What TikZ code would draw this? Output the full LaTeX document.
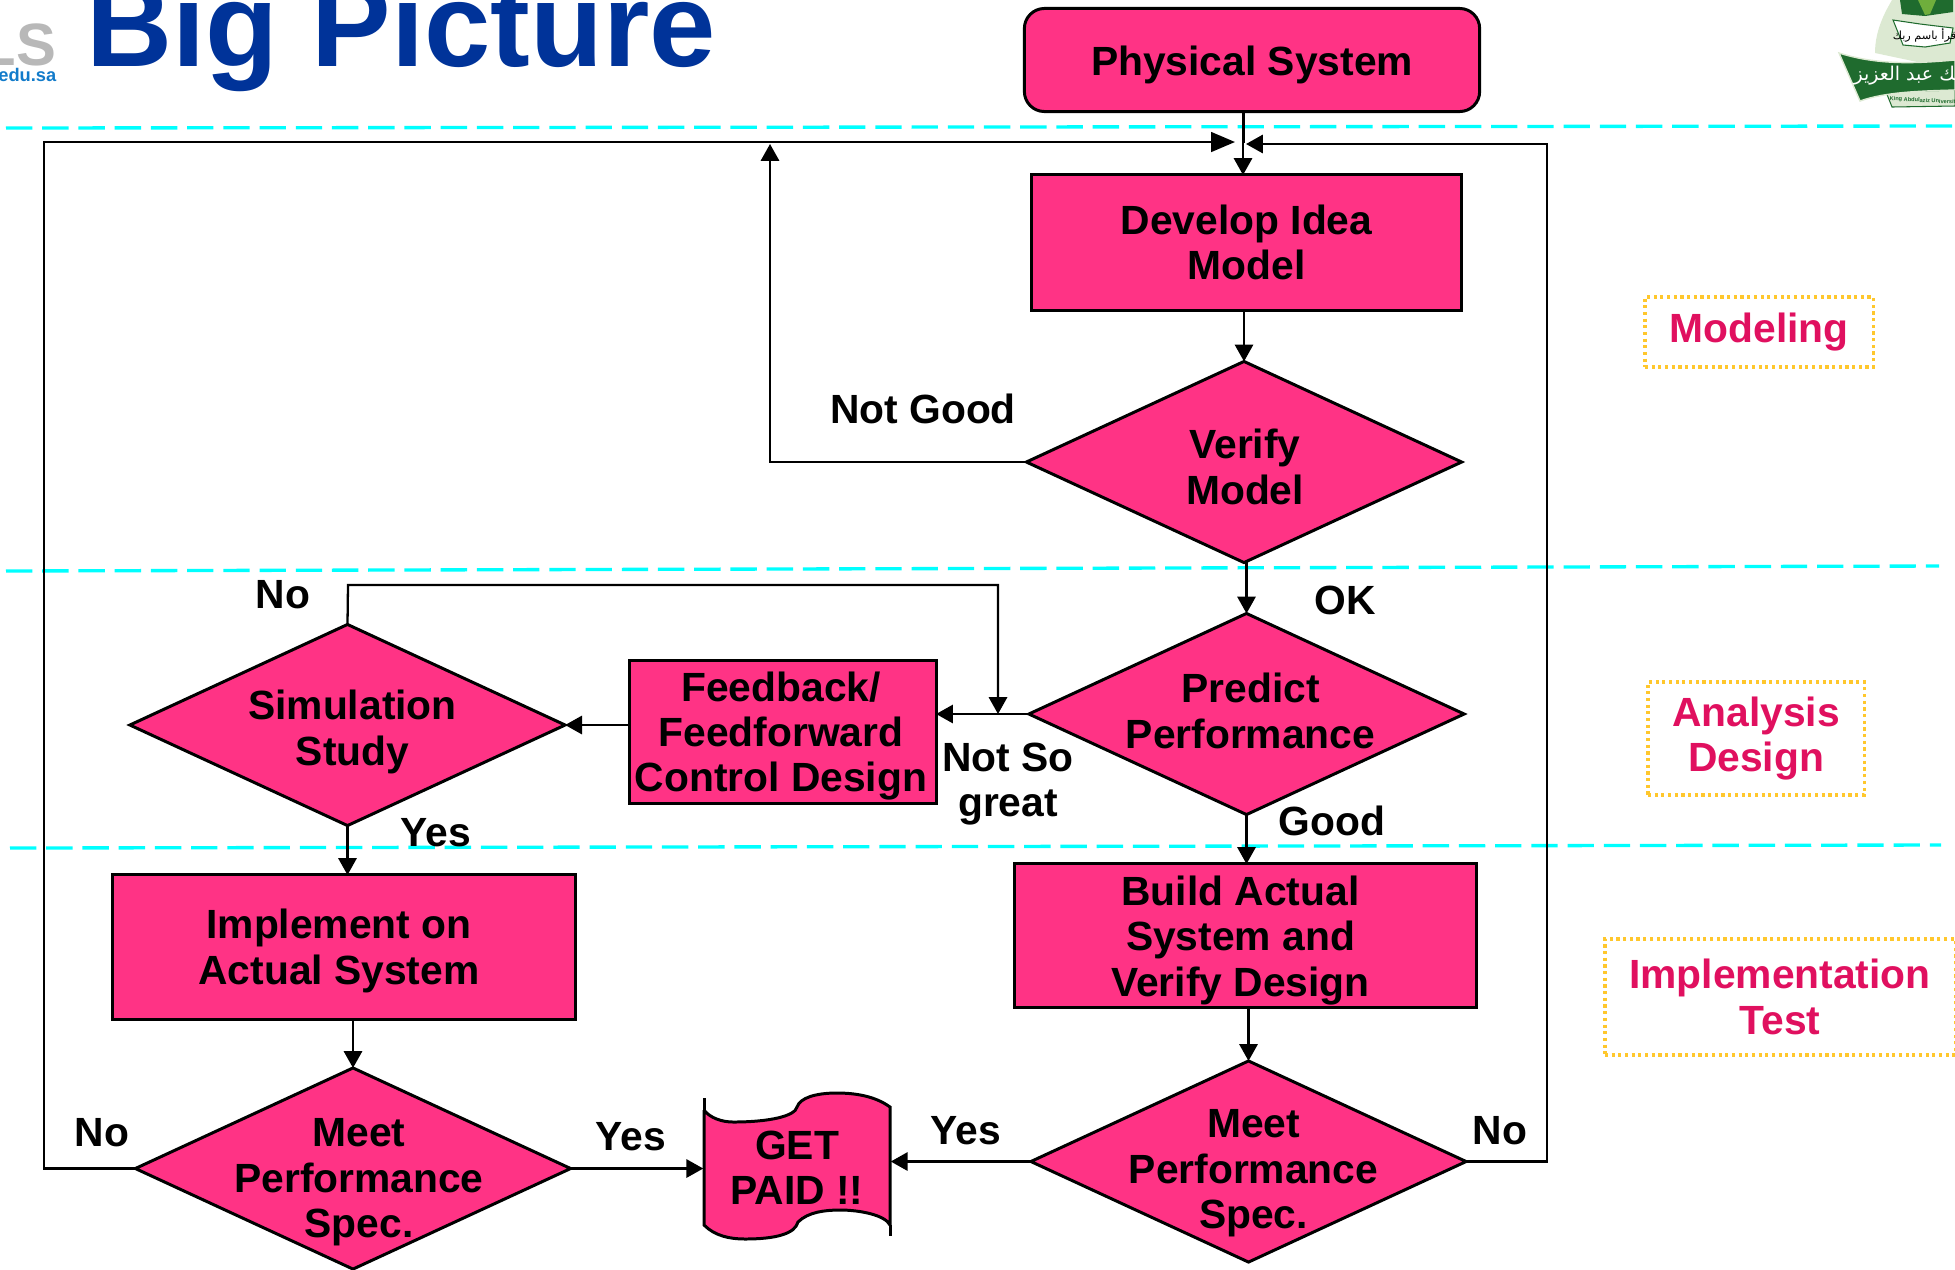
\documentclass[tikz,border=0pt]{standalone}
\usepackage{fontspec}
\setmainfont{Liberation Sans}
\newfontfamily\arabicfont[Script=Arabic]{DejaVu Sans}
\TeXXeTstate=1
\usetikzlibrary{arrows.meta,shapes.geometric}
\definecolor{flowpink}{HTML}{FF3385}
\definecolor{tagred}{HTML}{E0105F}
\definecolor{taggold}{HTML}{FFC72C}
\definecolor{titleblue}{HTML}{003399}
\definecolor{phasecyan}{HTML}{00FFFF}
\definecolor{crestpale}{HTML}{DCE9D2}
\definecolor{crestgreen}{HTML}{1F6B2E}
\definecolor{crestleaf}{HTML}{6FAE3C}
\tikzset{
  flowfont/.style={font=\fontsize{11.6pt}{12.9pt}\selectfont\bfseries},
  procbox/.style={draw=black,fill=flowpink,line width=0.85pt,inner sep=0pt,outer sep=0pt,align=center,flowfont},
  decision/.style={diamond,draw=black,fill=flowpink,line width=0.85pt,inner sep=0pt,outer sep=0pt,
    minimum width=4.35cm,minimum height=2.01cm,shape aspect=2.17},
  flow/.style={line width=0.65pt,-{Triangle[length=4.8pt,width=5.2pt]}},
  flowlabel/.style={inner sep=0pt,align=center,flowfont},
  phasetag/.style={draw=taggold,densely dotted,line width=0.9pt,inner sep=0pt,align=center,flowfont,text=tagred},
  phaseline/.style={phasecyan,line width=0.95pt,dash pattern=on 7.5pt off 2.8pt}
}
\begin{document}
\begin{tikzpicture}[x=0.01cm,y=-0.01cm]
\useasboundingbox (0,0) rectangle (1955,1269);

% header
\node[anchor=base west,inner sep=0pt,text=titleblue,font=\fontsize{33.9pt}{36pt}\selectfont\bfseries] (title) at (86,66) {Big Picture};
\node[anchor=base east,inner sep=0pt,text=black!28,font=\fontsize{17pt}{18pt}\selectfont\bfseries] (lslogo) at (57,65) {LS};
\node[anchor=base east,inner sep=0pt,text=cyan!60!blue,font=\fontsize{5.2pt}{6pt}\selectfont\bfseries] (edulogo) at (57,81) {edu.sa};

% university crest
\fill[crestpale] (1875,53) .. controls (1875,30) and (1885,12) .. (1892,0) -- (1955,0) -- (1955,70) -- cycle;
\fill[crestgreen] (1900,0) -- (1953,0) -- (1953,12) -- (1925,16) -- (1902,14) -- cycle;
\fill[crestleaf] (1918,0) -- (1936,0) -- (1930,14) -- (1925,15) -- cycle;
\draw[crestgreen,fill=white,line width=0.3pt] (1893,20) -- (1920,24) -- (1953,28) -- (1950,43) -- (1925,47) -- (1903,45) -- cycle;
\node[inner sep=0pt,text=black,font=\arabicfont\fontsize{3.2pt}{4pt}\selectfont] (crestverse) at (1926,35) {\beginR اقرأ باسم ربك\endR};
\draw[crestgreen,fill=crestpale,line width=0.3pt] (1886,92) -- (1955,90) -- (1955,106) -- (1892,107) -- cycle;
\draw[crestpale,fill=crestgreen,line width=0.4pt] (1839,53) .. controls (1880,66) and (1920,63) .. (1955,60) -- (1955,90) .. controls (1920,91) and (1885,92) .. (1860,101) -- cycle;
\node[anchor=west,inner sep=0pt,text=white,font=\arabicfont\fontsize{5.4pt}{6pt}\selectfont] (crestname) at (1853,76) {\beginR الملك عبد العزيز\endR};
\node[anchor=west,inner sep=0pt,text=crestgreen,font=\fontsize{1.6pt}{2pt}\selectfont\bfseries,rotate=-3] (crestuni) at (1889,99) {King Abdulaziz University};

% phase separators
\draw[phaseline] (6,128) -- (1955,126);
\draw[phaseline] (6,571) -- (1939,566);
\draw[phaseline] (10,848) -- (1941,845);

% blocks
\node[procbox,rounded corners=0.2cm,minimum width=4.55cm,minimum height=1.03cm,
  label={[flowlabel,name=physText,yshift=-0.05cm]center:Physical System}] (phys) at (1252,60) {};
\node[procbox,minimum width=4.29cm,minimum height=1.35cm] (develop) at (1246.5,242.5) {Develop Idea\\Model};
\node[decision,label={[flowlabel,name=verifyText,xshift=0.01cm,yshift=-0.05cm]center:Verify\\Model}] (verify) at (1244,462) {};
\node[decision,label={[flowlabel,name=predictText,xshift=0.04cm,yshift=0.03cm]center:Predict\\Performance}] (predict) at (1246.5,714) {};
\node[procbox,minimum width=3.06cm,minimum height=1.42cm,
  label={[flowlabel,name=feedbackText,xshift=-0.02cm,yshift=-0.04cm]center:Feedback/\\Feedforward\\Control Design}] (feedback) at (783,732) {};
\node[decision,label={[flowlabel,name=simText,xshift=0.05cm,yshift=-0.07cm]center:Simulation\\Study}] (simulation) at (347.5,725) {};
\node[procbox,minimum width=4.62cm,minimum height=1.44cm,
  label={[flowlabel,name=implementText,xshift=-0.05cm,yshift=-0.04cm]center:Implement on\\Actual System}] (implement) at (344,947) {};
\node[procbox,minimum width=4.61cm,minimum height=1.43cm,
  label={[flowlabel,name=buildText,xshift=-0.05cm,yshift=-0.05cm]center:Build Actual\\System and\\Verify Design}] (build) at (1245.5,935.5) {};
\node[decision,label={[flowlabel,name=meetLText,xshift=0.06cm,yshift=-0.14cm]center:Meet\\Performance\\Spec.}] (meetL) at (353,1168.5) {};
\node[decision,label={[flowlabel,name=meetRText,xshift=0.05cm,yshift=-0.12cm]center:Meet\\Performance\\Spec.}] (meetR) at (1248.5,1161.5) {};

% document shape for the payment step
\draw[fill=flowpink,line width=0.85pt] (704,1110) -- (704,1225) .. controls (715,1236) and (730,1239) .. (745,1239)
  .. controls (775,1239) and (795,1234) .. (798,1222) .. controls (808,1212) and (825,1210) .. (840,1210)
  .. controls (860,1210) and (885,1215) .. (890,1225) -- (890,1107) .. controls (875,1096) and (855,1093) .. (837,1093)
  .. controls (815,1093) and (800,1098) .. (797,1107) .. controls (795,1116) and (770,1122) .. (733,1122)
  .. controls (722,1122) and (710,1118) .. (704,1110);
\draw[line width=0.85pt] (704,1098) -- (704,1110);
\draw[line width=0.85pt] (890,1225) -- (890,1236);
\node[flowlabel,minimum width=1.86cm,minimum height=1.3cm] (paid) at (797,1168) {GET\\PAID !!};

% main flow
\coordinate (join) at (1243,143);
\draw[line width=0.85pt] (phys.south -| join) -- (join);
\draw[flow] (join) -- (join |- develop.north);
\draw[flow] (develop.south -| verify.north) -- (verify.north);
\draw[flow] (verify.south) -- (verify.south -| predict.north) -- (predict.north);
\draw[flow] (predict.south) -- (predict.south |- build.north);
\draw[flow] (meetR.north |- build.south) -- (meetR.north);
\draw[flow] (predict.west) -- (predict.west -| feedback.east);
\draw[flow] (feedback.west |- simulation.east) -- (simulation.east);
\draw[flow] (simulation.south) -- (simulation.south |- implement.north);
\draw[flow] (implement.south -| meetL.north) -- (meetL.north);
\draw[flow] (meetL.east) -- (meetL.east -| paid.west);
\draw[flow] (meetR.west) -- (meetR.west -| paid.east);

% feedback loops
\coordinate (leftrail) at (44,142);
\coordinate (leftin) at (1235,142);
\coordinate (rightrail) at (1547,144);
\coordinate (rightin) at (1246,144);
\coordinate (recheck) at (770,144);
\coordinate (simtop) at (348,585);
\coordinate (simdrop) at (998,585);
\draw[flow,-{Triangle[length=6.8pt,width=5.6pt]}] (meetL.west) -- (meetL.west -| leftrail) -- (leftrail) -- (leftin);
\draw[flow] (meetR.east) -- (meetR.east -| rightrail) -- (rightrail) -- (rightin);
\draw[flow] (verify.west) -- (verify.west -| recheck) -- (recheck);
\draw[flow] (simulation.north) -- (simtop) -- (simdrop) -- (simdrop |- predict.west);

% branch labels
\node[flowlabel] (lblnotgood) at (923,409) {Not Good};
\node[flowlabel] (lblnotop) at (283,595) {No};
\node[flowlabel] (lblok) at (1345,600) {OK};
\node[flowlabel] (lblnotso) at (1008,784) {Not So\\great};
\node[flowlabel] (lblgood) at (1332,821) {Good};
\node[flowlabel] (lblyessim) at (436,833) {Yes};
\node[flowlabel] (lblnoleft) at (102,1133) {No};
\node[flowlabel] (lblyesleft) at (631,1137) {Yes};
\node[flowlabel] (lblyesright) at (966,1131) {Yes};
\node[flowlabel] (lblnoright) at (1500,1131) {No};

% phase tags
\node[phasetag,minimum width=2.28cm,minimum height=0.7cm] (tagmodel) at (1759,332) {Modeling};
\node[phasetag,minimum width=2.16cm,minimum height=1.13cm] (taganalysis) at (1756,738.5) {Analysis\\Design};
\node[phasetag,minimum width=3.5cm,minimum height=1.16cm] (tagimpl) at (1780,997) {Implementation\\Test};
\end{tikzpicture}
\end{document}
